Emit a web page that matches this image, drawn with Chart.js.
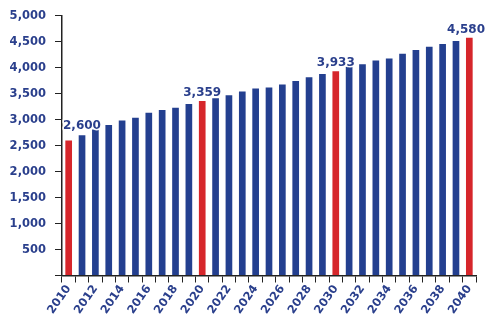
<!DOCTYPE html>
<html>
<head>
<meta charset="utf-8">
<script src="https://cdn.jsdelivr.net/npm/chart.js@4/dist/chart.umd.min.js"></script>
<style>
html,body{margin:0;padding:0;background:#fff;}
#wrap{width:487px;height:320px;position:relative;}
</style>
</head>
<body>
<div id="wrap"><canvas id="c"></canvas></div>
<script>
const years = [2010,2011,2012,2013,2014,2015,2016,2017,2018,2019,2020,2021,2022,2023,2024,2025,2026,2027,2028,2029,2030,2031,2032,2033,2034,2035,2036,2037,2038,2039,2040];
const values = [2600,2700,2810,2900,2985,3040,3135,3190,3230,3305,3359,3415,3470,3545,3600,3620,3680,3745,3820,3880,3933,4020,4070,4140,4180,4270,4345,4405,4460,4515,4580];
const highlightYears = [2010,2020,2030,2040];
const yTicks = [0,500,1000,1500,2000,2500,3000,3500,4000,4500,5000];

const BLUE = '#233f8f';
const RED = '#d6262b';
const TEXT = '#2a3f8c';
const FONT = '"DejaVu Sans", "Liberation Sans", Arial, sans-serif';

const barColors = years.map(y => highlightYears.includes(y) ? RED : BLUE);

const labelPlugin = {
  id: 'valueLabels',
  afterDatasetsDraw(chart) {
    const ctx = chart.ctx;
    const meta = chart.getDatasetMeta(0);
    const area = chart.chartArea;
    ctx.save();
    ctx.font = 'bold 12px ' + FONT;
    ctx.textAlign = 'center';
    ctx.textBaseline = 'bottom';
    years.forEach((y, i) => {
      if (!highlightYears.includes(y)) return;
      const el = meta.data[i];
      const txt = values[i].toLocaleString('en-US');
      const w = ctx.measureText(txt).width;
      let x = Math.max(el.x, area.left + w / 2 + 1);
      x = Math.min(x, chart.width - w / 2 - 2);
      const yy = el.y - (i === 0 ? 9 : 2);
      ctx.lineWidth = 3;
      ctx.strokeStyle = 'rgba(255,255,255,0.9)';
      ctx.lineJoin = 'round';
      ctx.strokeText(txt, x, yy);
      ctx.fillStyle = TEXT;
      ctx.fillText(txt, x, yy);
    });
    ctx.restore();
  }
};

new Chart(document.getElementById('c'), {
  type: 'bar',
  data: {
    labels: years.map(String),
    datasets: [{
      data: values,
      backgroundColor: barColors,
      categoryPercentage: 1.0,
      barPercentage: 0.5
    }]
  },
  options: {
    responsive: true,
    maintainAspectRatio: false,
    animation: false,
    devicePixelRatio: 1,
    layout: { padding: { top: 13, right: 11, left: 0, bottom: 0 } },
    plugins: { legend: { display: false }, tooltip: { enabled: false } },
    scales: {
      x: {
        offset: true,
        grid: { offset: true, drawOnChartArea: false, drawTicks: true, tickLength: 7, color: '#222', tickColor: '#222' },
        border: { display: true, color: '#222', width: 1.5 },
        ticks: {
          autoSkip: false,
          maxRotation: 55,
          minRotation: 55,
          padding: 0,
          color: TEXT,
          font: { family: FONT, size: 11.5, weight: 'bold' },
          callback: function(v, i) { const y = years[i]; return (y % 2 === 0) ? String(y) : ''; }
        },
        afterFit: function(s) { s.height = 44.5; }
      },
      y: {
        min: 0,
        max: 5000,
        afterBuildTicks: function(s) { s.ticks = yTicks.map(v => ({ value: v })); },
        grid: { drawOnChartArea: false, drawTicks: true, tickLength: 7, color: '#222', tickColor: '#222' },
        border: { display: true, color: '#222', width: 1.5 },
        ticks: {
          padding: 9,
          color: TEXT,
          font: { family: FONT, size: 11.5, weight: 'bold' },
          callback: function(v) { return v === 0 ? '' : v.toLocaleString('en-US'); }
        },
        afterFit: function(s) { s.width = 62; }
      }
    }
  },
  plugins: [labelPlugin]
});
</script>
</body>
</html>
